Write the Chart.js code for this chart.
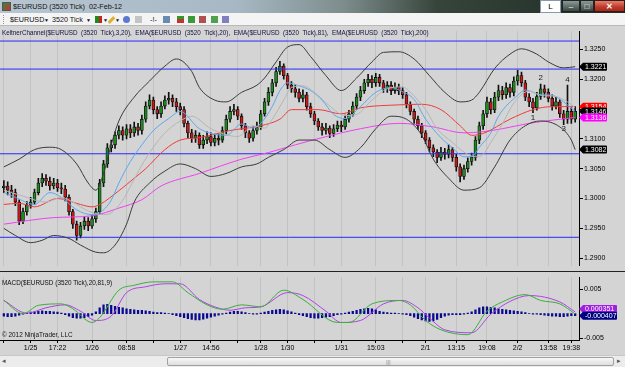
<!DOCTYPE html>
<html>
<head>
<meta charset="utf-8">
<script src="https://cdn.jsdelivr.net/npm/chart.js@4.4.0/dist/chart.umd.min.js"></script>
<style>
  body { margin:0; width:625px; height:367px; overflow:hidden; background:#d4d4d4; position:relative;
         font-family:"Liberation Sans", Arial, sans-serif; }
  .abs { position:absolute; }
  #titlebar { left:0; top:0; width:625px; height:13px;
    background:linear-gradient(90deg,#b7c5d0 0%,#a7b8c4 38%,#7d8d8c 55%,#36443b 70%,#1f2b25 100%); }
  #titlebar .ttl { left:13px; top:2px; font-size:7.2px; color:#111; white-space:pre; }
  .btnL { left:540px; top:0; width:19px; height:11px; background:#fff; border:1px solid #8899aa; font-size:8px; text-align:center; line-height:11px; color:#000; }
  .btnMin, .btnMax { top:0; height:12px; background:linear-gradient(#8a9a96,#3a4842); color:#fff; font-size:8px; text-align:center; line-height:11px; border:1px solid #222; box-sizing:border-box; }
  .btnMin { left:562px; width:18px; }
  .btnMax { left:580px; width:14px; }
  .btnX { left:594px; top:0; width:31px; height:12px; background:linear-gradient(#e08070,#c0392b 60%,#a52a1a); color:#fff; font-size:8px; font-weight:bold; text-align:center; line-height:12px; border:1px solid #3a1a10; box-sizing:border-box; }
  #toolbar { left:0; top:13px; width:625px; height:13px; background:#f4f4f4; border-bottom:1px solid #b8b8b8; box-sizing:border-box; }
  #toolbar .tx { top:2px; font-size:7.2px; color:#111; white-space:pre; }
  #toolbar .ic { top:3px; width:7px; height:7px; }
  #legend { left:2px; top:29px; font-size:6.3px; color:#101040; white-space:pre; }
  #sep { left:0; top:271px; width:625px; height:1px; background:#222; }
  #macdTitle { left:2px; top:279px; font-size:6.4px; color:#101010; white-space:pre; }
  #copy { left:2px; top:331px; font-size:6.4px; color:#101010; white-space:pre; }
  #scroll { left:0; top:355px; width:625px; height:12px; background:#ececec; border-top:1px solid #c8c8c8; box-sizing:border-box; }
  #thumb { left:167px; top:1px; width:447px; height:9px; background:linear-gradient(#f8f8f8,#dedede); border:1px solid #a0a0a0; border-radius:2px; box-sizing:border-box; }
  canvas { position:absolute; left:0; }
</style>
</head>
<body>
<div id="titlebar" class="abs">
  <div class="abs" style="left:2px;top:2px;width:9px;height:9px;background:linear-gradient(135deg,#2a8a3a,#d03030);border:1px solid #555;box-sizing:border-box"></div>
  <div class="abs ttl">$EURUSD (3520 Tick)  02-Feb-12</div>
  <div class="abs btnL">L</div>
  <div class="abs btnMin">–</div>
  <div class="abs btnMax">□</div>
  <div class="abs btnX">✕</div>
</div>
<div id="toolbar" class="abs">
  <div class="abs" style="left:3px;top:2px;width:2px;height:9px;border-left:1px dotted #999"></div>
  <div class="abs tx" style="left:10px">$EURUSD</div>
  <div class="abs tx" style="left:44px;font-size:5px;top:4px">▼</div>
  <div class="abs tx" style="left:52px">3520 Tick</div>
  <div class="abs tx" style="left:86px;font-size:5px;top:4px">▼</div>
  <div class="abs ic" style="left:95px;background:linear-gradient(90deg,#1a8a1a 50%,#c82020 50%)"></div>
  <div class="abs tx" style="left:103px;font-size:5px;top:4px">▼</div>
  <div class="abs ic" style="left:110px;background:#e0b030;transform:rotate(45deg);width:3px;height:8px"></div>
  <div class="abs tx" style="left:115px;font-size:5px;top:4px">▼</div>
  <div class="abs ic" style="left:123px;background:#5a7ad0;border-radius:50%"></div>
  <div class="abs ic" style="left:135px;background:#c4c4c4"></div>
  <div class="abs tx" style="left:150px">-!-</div>
  <div class="abs ic" style="left:163px;background:#6a8ab0"></div>
  <div class="abs ic" style="left:177px;background:linear-gradient(#2a9a2a 50%,#c83030 50%)"></div>
  <div class="abs ic" style="left:188px;background:#3a9a3a"></div>
  <div class="abs ic" style="left:199px;background:#b05050"></div>
  <div class="abs ic" style="left:211px;background:#50a050"></div>
  <div class="abs ic" style="left:222px;background:#8080c0"></div>
</div>

<canvas id="price" width="625" height="245" style="top:26px"></canvas>
<div id="legend" class="abs">KeltnerChannel($EURUSD  (3520  Tick),3,20),  EMA($EURUSD  (3520  Tick),20),  EMA($EURUSD  (3520  Tick),81),  EMA($EURUSD  (3520  Tick),200)</div>
<div id="sep" class="abs"></div>
<canvas id="macd" width="625" height="83" style="top:272px"></canvas>
<div id="macdTitle" class="abs">MACD($EURUSD (3520 Tick),20,81,9)</div>
<div id="copy" class="abs">© 2012 NinjaTrader, LLC</div>
<div id="scroll" class="abs">
  <div class="abs" style="left:2px;top:1px;font-size:7px;color:#555">◂</div>
  <div id="thumb" class="abs"><div class="abs" style="left:218px;top:1px;font-size:6px;color:#888">|||</div></div>
  <div class="abs" style="left:617px;top:1px;font-size:7px;color:#555">▸</div>
</div>

<script>
// 价格数据（3520 Tick K线）
const openFirst = 1.3018;
const closes = [
  1.3021,1.3014,1.3010,1.2994,1.2962,1.2978,1.2989,1.2994,1.3010,1.3026,
  1.3034,1.3029,1.3021,1.3026,1.3018,1.3016,1.3002,1.2978,1.2957,1.2938,
  1.2954,1.2962,1.2954,1.2966,1.2978,1.3026,1.3058,1.3085,1.3090,1.3106,
  1.3114,1.3106,1.3117,1.3110,1.3120,1.3114,1.3133,1.3155,1.3165,1.3149,
  1.3142,1.3155,1.3165,1.3168,1.3162,1.3154,1.3149,1.3126,1.3110,1.3101,
  1.3106,1.3090,1.3098,1.3104,1.3094,1.3101,1.3098,1.3114,1.3133,1.3146,
  1.3149,1.3138,1.3122,1.3110,1.3101,1.3114,1.3120,1.3142,1.3162,1.3178,
  1.3194,1.3213,1.3222,1.3206,1.3190,1.3184,1.3178,1.3168,1.3174,1.3154,
  1.3142,1.3130,1.3120,1.3114,1.3118,1.3109,1.3117,1.3123,1.3120,1.3133,
  1.3142,1.3155,1.3170,1.3181,1.3194,1.3200,1.3194,1.3203,1.3194,1.3184,
  1.3190,1.3181,1.3187,1.3181,1.3174,1.3158,1.3146,1.3133,1.3122,1.3110,
  1.3098,1.3085,1.3078,1.3069,1.3078,1.3074,1.3082,1.3069,1.3053,1.3037,
  1.3050,1.3062,1.3069,1.3098,1.3122,1.3142,1.3162,1.3149,1.3170,1.3181,
  1.3174,1.3186,1.3178,1.3197,1.3206,1.3194,1.3170,1.3162,1.3152,1.3171,
  1.3184,1.3178,1.3168,1.3155,1.3162,1.3142,1.3133,1.3146,1.3133,1.3146
];
const highs = [
  1.3030,1.3028,1.3022,1.3016,1.2998,1.2984,1.2995,1.3002,1.3016,1.3034,
  1.3042,1.3040,1.3036,1.3034,1.3032,1.3026,1.3022,1.3006,1.2982,1.2962,
  1.2960,1.2970,1.2968,1.2972,1.2984,1.3032,1.3064,1.3092,1.3098,1.3112,
  1.3122,1.3120,1.3124,1.3124,1.3128,1.3126,1.3140,1.3162,1.3174,1.3170,
  1.3154,1.3162,1.3172,1.3178,1.3174,1.3168,1.3160,1.3154,1.3130,1.3116,
  1.3114,1.3110,1.3106,1.3112,1.3110,1.3108,1.3108,1.3120,1.3140,1.3154,
  1.3158,1.3154,1.3142,1.3126,1.3114,1.3120,1.3128,1.3148,1.3168,1.3186,
  1.3200,1.3220,1.3230,1.3226,1.3210,1.3196,1.3190,1.3184,1.3182,1.3178,
  1.3160,1.3146,1.3134,1.3126,1.3126,1.3122,1.3124,1.3130,1.3130,1.3140,
  1.3148,1.3162,1.3176,1.3188,1.3200,1.3208,1.3206,1.3210,1.3208,1.3198,
  1.3196,1.3196,1.3194,1.3192,1.3186,1.3178,1.3162,1.3150,1.3138,1.3126,
  1.3114,1.3102,1.3090,1.3082,1.3086,1.3084,1.3090,1.3086,1.3074,1.3058,
  1.3056,1.3068,1.3076,1.3104,1.3128,1.3148,1.3170,1.3168,1.3178,1.3190,
  1.3188,1.3194,1.3192,1.3204,1.3215,1.3212,1.3198,1.3176,1.3168,1.3178,
  1.3192,1.3190,1.3184,1.3174,1.3170,1.3166,1.3148,1.3190,1.3152,1.3154
];
const lows = [
  1.3010,1.3006,1.3002,1.2988,1.2956,1.2958,1.2972,1.2984,1.2990,1.3006,
  1.3020,1.3022,1.3014,1.3016,1.3012,1.3008,1.2996,1.2972,1.2950,1.2930,
  1.2934,1.2948,1.2946,1.2950,1.2960,1.2974,1.3020,1.3052,1.3078,1.3084,
  1.3100,1.3098,1.3100,1.3102,1.3104,1.3106,1.3108,1.3128,1.3150,1.3142,
  1.3134,1.3136,1.3150,1.3158,1.3154,1.3146,1.3140,1.3120,1.3102,1.3094,
  1.3094,1.3084,1.3084,1.3092,1.3088,1.3088,1.3090,1.3094,1.3108,1.3128,
  1.3140,1.3132,1.3116,1.3102,1.3094,1.3096,1.3108,1.3116,1.3138,1.3156,
  1.3172,1.3188,1.3208,1.3200,1.3184,1.3178,1.3170,1.3162,1.3162,1.3148,
  1.3136,1.3124,1.3114,1.3106,1.3108,1.3102,1.3104,1.3112,1.3112,1.3116,
  1.3128,1.3138,1.3150,1.3164,1.3176,1.3188,1.3186,1.3188,1.3188,1.3178,
  1.3178,1.3174,1.3176,1.3174,1.3168,1.3152,1.3140,1.3126,1.3116,1.3102,
  1.3092,1.3078,1.3070,1.3060,1.3064,1.3066,1.3068,1.3062,1.3046,1.3028,
  1.3032,1.3044,1.3056,1.3064,1.3092,1.3116,1.3136,1.3142,1.3144,1.3164,
  1.3166,1.3168,1.3170,1.3172,1.3190,1.3188,1.3164,1.3154,1.3144,1.3148,
  1.3166,1.3170,1.3162,1.3148,1.3150,1.3136,1.3124,1.3126,1.3126,1.3128
];

// 指标线（[K线序号, 数值]）
const kcUpper = [[0,1.3053],[4,1.3066],[8,1.3082],[12,1.3086],[15,1.3082],[19,1.3058],[22,1.3026],[24,1.3014],
  [26,1.3042],[28,1.3090],[30,1.3130],[34,1.3170],[38,1.3197],[42,1.3222],[45,1.3234],[49,1.3213],[51,1.3186],
  [55,1.3165],[58,1.3162],[62,1.3178],[66,1.3190],[68,1.3202],[71,1.3229],[74,1.3254],[77,1.3258],[80,1.3238],
  [84,1.3206],[88,1.3181],[92,1.3202],[96,1.3229],[99,1.3245],[103,1.3246],[107,1.3234],[111,1.3206],[115,1.3178],
  [119,1.3162],[122,1.3165],[124,1.3178],[128,1.3218],[132,1.3242],[135,1.3251],[139,1.3242],[142,1.3229],
  [146,1.3219],[149,1.3221]];
const kcLower = [[0,1.2950],[3,1.2938],[7,1.2926],[10,1.2930],[13,1.2938],[17,1.2933],[20,1.2922],[24,1.2910],
  [26,1.2909],[29,1.2922],[32,1.2957],[34,1.2994],[38,1.3026],[42,1.3046],[46,1.3058],[50,1.3050],[54,1.3037],
  [58,1.3042],[62,1.3053],[66,1.3058],[69,1.3069],[73,1.3082],[77,1.3098],[81,1.3098],[85,1.3082],[89,1.3069],
  [93,1.3085],[97,1.3117],[101,1.3138],[105,1.3133],[109,1.3106],[112,1.3066],[116,1.3034],[120,1.3014],
  [124,1.3018],[128,1.3053],[132,1.3098],[136,1.3122],[140,1.3130],[145,1.3120],[148,1.3098],[149,1.3082]];
const kcMiddle = [[0,1.3014],[5,1.3004],[11,1.2994],[15,1.3002],[18,1.2994],[22,1.2979],[26,1.2973],[28,1.2976],
  [31,1.2997],[33,1.3020],[36,1.3056],[39,1.3086],[42,1.3110],[46,1.3130],[49,1.3138],[54,1.3117],[61,1.3104],
  [65,1.3122],[68,1.3118],[70,1.3133],[73,1.3165],[75,1.3186],[78,1.3189],[81,1.3178],[85,1.3155],[89,1.3139],
  [92,1.3141],[96,1.3165],[100,1.3184],[104,1.3187],[106,1.3178],[110,1.3149],[113,1.3117],[117,1.3094],
  [120,1.3078],[123,1.3070],[125,1.3074],[127,1.3094],[130,1.3125],[133,1.3160],[137,1.3180],[140,1.3173],
  [144,1.3171],[147,1.3162],[149,1.3152]];
const ema20 = [[0,1.3010],[3,1.3002],[8,1.2990],[12,1.3010],[15,1.3002],[19,1.2981],[23,1.2973],[25,1.2976],
  [28,1.2997],[30,1.3026],[33,1.3062],[36,1.3090],[39,1.3114],[43,1.3134],[46,1.3146],[51,1.3117],[58,1.3106],
  [62,1.3125],[65,1.3118],[67,1.3126],[70,1.3154],[72,1.3181],[74,1.3194],[77,1.3189],[80,1.3181],[83,1.3165],
  [86,1.3141],[89,1.3134],[93,1.3154],[97,1.3178],[101,1.3186],[103,1.3182],[107,1.3166],[110,1.3133],
  [114,1.3102],[117,1.3085],[120,1.3070],[122,1.3070],[124,1.3086],[127,1.3110],[129,1.3138],[134,1.3173],
  [136,1.3182],[140,1.3174],[143,1.3173],[146,1.3162],[149,1.3146]];
const ema81 = [[0,1.2990],[4,1.2992],[8,1.2986],[14,1.3000],[20,1.2990],[23,1.2986],[25,1.2990],[30,1.3013],
  [34,1.3034],[37,1.3050],[42,1.3082],[46,1.3098],[51,1.3102],[59,1.3114],[67,1.3122],[72,1.3133],[75,1.3149],
  [82,1.3149],[88,1.3142],[93,1.3152],[103,1.3157],[109,1.3158],[114,1.3149],[119,1.3122],[122,1.3106],
  [125,1.3109],[132,1.3133],[138,1.3149],[143,1.3154],[149,1.3154]];
const ema200 = [[0,1.2957],[13,1.2968],[23,1.2971],[30,1.2984],[36,1.2998],[41,1.3021],[51,1.3042],[62,1.3066],
  [69,1.3077],[76,1.3090],[83,1.3102],[93,1.3117],[103,1.3126],[112,1.3120],[120,1.3110],[125,1.3112],
  [130,1.3117],[137,1.3126],[149,1.3136]];
const levels = [1.3264, 1.3217, 1.3075, 1.2935];
const waveMarks = [[138, 1.3135, '1'], [140, 1.3202, '2'], [146, 1.3117, '3'], [147, 1.3199, '4']];

// MACD(20,81,9)
const macdHist = [
  -0.0005,-0.0006,-0.0006,-0.0005,-0.0003,-0.0001,0.0001,0.0003,0.0004,0.0005,
  0.0006,0.0005,0.0005,0.0004,0.0003,0.0001,-0.0002,-0.0005,-0.0008,-0.0009,
  -0.0009,-0.0008,-0.0006,-0.0003,0.0004,0.0012,0.0018,0.0019,0.0017,0.0015,
  0.0013,0.0012,0.0010,0.0009,0.0008,0.0007,0.0007,0.0006,0.0005,0.0003,
  0.0002,0.0002,0.0001,0.0000,-0.0002,-0.0004,-0.0006,-0.0008,-0.0010,-0.0012,
  -0.0013,-0.0013,-0.0011,-0.0009,-0.0007,-0.0005,-0.0003,-0.0001,0.0001,0.0003,
  0.0005,0.0005,0.0004,0.0002,0.0000,-0.0001,-0.0001,0.0001,0.0003,0.0005,
  0.0007,0.0008,0.0009,0.0008,0.0006,0.0004,0.0001,-0.0002,-0.0004,-0.0006,
  -0.0008,-0.0009,-0.0009,-0.0008,-0.0007,-0.0006,-0.0004,-0.0002,-0.0001,0.0001,
  0.0003,0.0005,0.0007,0.0009,0.0010,0.0011,0.0010,0.0008,0.0005,0.0003,
  0.0002,0.0001,0.0001,0.0000,-0.0001,-0.0002,-0.0004,-0.0007,-0.0010,-0.0013,
  -0.0015,-0.0016,-0.0015,-0.0012,-0.0008,-0.0005,-0.0003,-0.0002,-0.0002,-0.0002,
  -0.0001,0.0001,0.0004,0.0008,0.0012,0.0014,0.0014,0.0013,0.0012,0.0010,
  0.0009,0.0008,0.0007,0.0006,0.0005,0.0004,0.0002,0.0000,-0.0001,-0.0001,
  -0.0002,-0.0003,-0.0004,-0.0005,-0.0005,-0.0006,-0.0006,-0.0005,-0.0004,-0.000407
];
const macdLine = [[0,0.0027],[5,0.0000],[9,0.0017],[15,0.0020],[18,0.0010],[23,-0.0018],[25,-0.0008],[30,0.0048],
  [34,0.0058],[39,0.0065],[44,0.0065],[48,0.0043],[53,0.0018],[57,0.0009],[62,0.0018],[67,0.0014],[73,0.0048],
  [78,0.0029],[87,-0.0018],[90,-0.0018],[96,0.0020],[103,0.0027],[106,0.0018],[110,-0.0014],[114,-0.0033],
  [121,-0.0043],[126,0.0005],[130,0.0024],[136,0.0039],[140,0.0027],[145,0.0020],[149,-0.000056]];
const macdAvg = [[0,0.0027],[6,0.0001],[11,0.0012],[16,0.0018],[20,0.0005],[24,-0.0014],[28,-0.0005],[32,0.0043],
  [37,0.0055],[42,0.0061],[46,0.0061],[51,0.0029],[55,0.0014],[59,0.0007],[63,0.0012],[67,0.0014],[74,0.0043],
  [78,0.0037],[84,0.0005],[88,-0.0018],[93,-0.0014],[99,0.0020],[104,0.0027],[108,0.0012],[111,-0.0009],
  [115,-0.0033],[122,-0.0039],[127,-0.0001],[132,0.0025],[137,0.0037],[145,0.0024],[149,0.000351]];

// 坐标轴刻度
const priceTicks = [1.2900, 1.2950, 1.3000, 1.3050, 1.3100, 1.3150, 1.3200, 1.3250];
const macdTicks = [-0.005, 0.005];
const timeIdx = [0, 7, 14, 23, 32, 39, 46, 54, 61, 67, 74, 81, 88, 97, 104, 110, 118, 126, 134, 142, 148];
const timeLbl = ['', '1/25', '17:22', '1/26', '08:58', '', '1/27', '14:56', '', '1/28', '1/30', '', '1/31', '15:03', '', '2/1', '13:15', '19:08', '2/2', '13:58', '19:38'];

const N = closes.length;
const opens = [openFirst].concat(closes.slice(0, -1));
const AXIS_W = 46;
const FONT = '"Liberation Sans", Arial, sans-serif';

function curve(pts, color, width) {
    return {
        type: 'line',
        data: pts.map(p => ({ x: p[0], y: p[1] })),
        borderColor: color,
        borderWidth: width || 1,
        pointRadius: 0,
        cubicInterpolationMode: 'monotone',
        fill: false,
        order: 1
    };
}

// 右侧价格标签
function drawTag(ctx, x, y, w, bg, txt) {
    ctx.fillStyle = bg;
    ctx.beginPath();
    ctx.moveTo(x, y);
    ctx.lineTo(x + 4, y - 4);
    ctx.lineTo(x + w - 1, y - 4);
    ctx.quadraticCurveTo(x + w, y - 4, x + w, y - 3);
    ctx.lineTo(x + w, y + 3);
    ctx.quadraticCurveTo(x + w, y + 4, x + w - 1, y + 4);
    ctx.lineTo(x + 4, y + 4);
    ctx.closePath();
    ctx.fill();
    ctx.fillStyle = '#fff';
    ctx.font = '7px ' + FONT;
    ctx.textBaseline = 'middle';
    ctx.textAlign = 'left';
    ctx.fillText(txt, x + 6, y + 0.5);
}

const priceTagPlugin = {
    id: 'priceTags',
    afterDraw(chart) {
        const ctx = chart.ctx, ys = chart.scales.y, xs = chart.scales.x;
        const x0 = chart.chartArea.right;
        ctx.save();
        // 波浪标记
        ctx.fillStyle = '#202020';
        ctx.font = '8px ' + FONT;
        ctx.textAlign = 'center';
        ctx.textBaseline = 'middle';
        waveMarks.forEach(m => ctx.fillText(m[2], xs.getPixelForValue(m[0]), ys.getPixelForValue(m[1])));
        const last = a => a[a.length - 1][1];
        const tags = [
            [last(kcUpper), '#000'],
            [last(ema81), '#ff0000'],
            [closes[N - 1], '#000'],
            [last(ema200), '#ff00ff'],
            [last(kcLower), '#000']
        ];
        tags.forEach(t => drawTag(ctx, x0, ys.getPixelForValue(t[0]), 28, t[1], t[0].toFixed(4)));
        ctx.restore();
    }
};

const macdTagPlugin = {
    id: 'macdTags',
    afterDraw(chart) {
        const ctx = chart.ctx, ys = chart.scales.y;
        const x0 = chart.chartArea.right;
        ctx.save();
        const la = macdAvg[macdAvg.length - 1][1];
        const lh = macdHist[N - 1];
        drawTag(ctx, x0, ys.getPixelForValue(la) - 3, 38, '#a020e0', la.toFixed(6));
        drawTag(ctx, x0, ys.getPixelForValue(lh), 38, '#000080', lh.toFixed(6));
        ctx.restore();
    }
};

function noPad(s) {
    s.paddingLeft = 0;
    s.paddingRight = 0;
}

// 价格主图
new Chart(document.getElementById('price'), {
    type: 'bar',
    data: {
        datasets: [
            curve(kcUpper, '#3a3a3a'),
            curve(kcLower, '#3a3a3a'),
            curve(kcMiddle, '#b5b5b5'),
            curve(ema20, '#5aa8f0'),
            curve(ema81, '#f03a3a'),
            curve(ema200, '#f040f0'),
            ...levels.map(v => ({
                type: 'line', data: [{ x: -1, y: v }, { x: N, y: v }],
                borderColor: '#2828ff', borderWidth: 1, pointRadius: 0, order: 2
            })),
            {
                type: 'bar', grouped: false, order: 5,
                data: closes.map((c, i) => ({ x: i, y: [opens[i], c] })),
                backgroundColor: closes.map((c, i) => c >= opens[i] ? '#1c8a1c' : '#c81818'),
                borderColor: '#101010', borderWidth: 0.8, borderSkipped: false,
                barThickness: 3
            },
            {
                type: 'bar', grouped: false, order: 6,
                data: closes.map((c, i) => ({ x: i, y: [lows[i], highs[i]] })),
                backgroundColor: '#101010',
                barThickness: 1
            }
        ]
    },
    options: {
        responsive: false,
        animation: false,
        layout: { padding: 0, autoPadding: false },
        plugins: { legend: { display: false }, tooltip: { enabled: false } },
        scales: {
            x: {
                type: 'linear', min: -1, max: N, offset: false,
                afterBuildTicks: s => { s.ticks = timeIdx.map(v => ({ value: v })); },
                ticks: { display: false },
                grid: { color: '#c2c2c2', drawTicks: false, offset: false },
                border: { display: false },
                afterFit: s => { s.height = 0; noPad(s); }
            },
            y: {
                position: 'right',
                min: 1.28872, max: 1.32805,
                afterBuildTicks: s => { s.ticks = priceTicks.map(v => ({ value: v })); },
                ticks: { color: '#000', font: { size: 7, family: FONT }, padding: 1, callback: v => v.toFixed(4) },
                grid: { drawOnChartArea: false, tickLength: 4, tickColor: '#000' },
                border: { color: '#000' },
                afterFit: s => { s.width = AXIS_W; }
            }
        }
    },
    plugins: [priceTagPlugin]
});

// MACD 副图
new Chart(document.getElementById('macd'), {
    type: 'bar',
    data: {
        datasets: [
            curve(macdLine, '#3cae3c'),
            curve(macdAvg, '#b040e8'),
            {
                type: 'bar', order: 5,
                data: macdHist.map((v, i) => ({ x: i, y: v })),
                backgroundColor: '#0a0a90',
                barThickness: 1.6
            }
        ]
    },
    options: {
        responsive: false,
        animation: false,
        layout: { padding: 0, autoPadding: false },
        plugins: { legend: { display: false }, tooltip: { enabled: false } },
        scales: {
            x: {
                type: 'linear', min: -1, max: N, offset: false, position: 'bottom',
                afterBuildTicks: s => { s.ticks = timeIdx.map(v => ({ value: v })); },
                border: { display: true, color: '#000' },
                grid: { color: '#c2c2c2', tickLength: 3, tickColor: '#000', offset: false },
                ticks: {
                    autoSkip: false, maxRotation: 0, padding: 1, color: '#000',
                    font: { size: 7, family: FONT },
                    callback: v => timeLbl[timeIdx.indexOf(v)]
                },
                afterFit: s => { s.height = 15; noPad(s); }
            },
            y: {
                position: 'right',
                min: -0.00538, max: 0.00745,
                afterBuildTicks: s => { s.ticks = macdTicks.map(v => ({ value: v })); },
                ticks: { color: '#000', font: { size: 7, family: FONT }, padding: 1, callback: v => String(v) },
                grid: { drawOnChartArea: false, tickLength: 4, tickColor: '#000' },
                border: { color: '#000' },
                afterFit: s => { s.width = AXIS_W; }
            }
        }
    },
    plugins: [macdTagPlugin]
});
</script>
</body>
</html>
